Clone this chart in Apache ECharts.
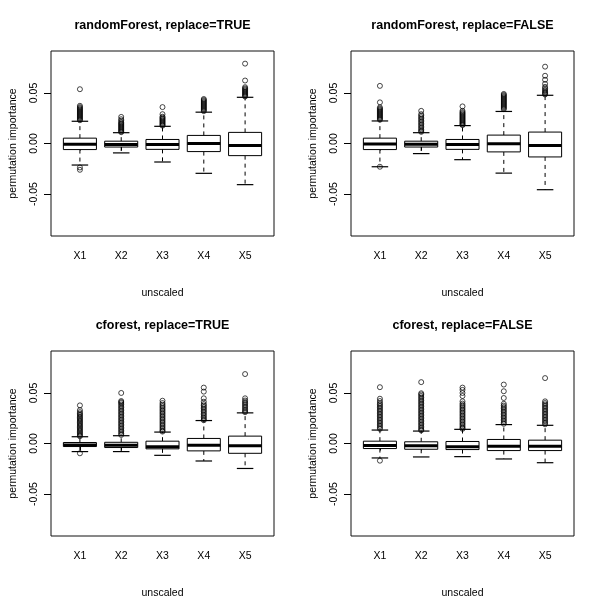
<!DOCTYPE html>
<html>
<head>
<meta charset="utf-8">
<script src="https://cdn.jsdelivr.net/npm/echarts@6/dist/echarts.min.js"></script>
<style>html,body{margin:0;padding:0;background:#fff}#c{width:600px;height:600px}</style>
</head>
<body>
<div id="c"></div>
<script>
// ---------- data ----------
const categories = ['X1', 'X2', 'X3', 'X4', 'X5'];
const panelTitles = ['randomForest, replace=TRUE', 'randomForest, replace=FALSE', 'cforest, replace=TRUE', 'cforest, replace=FALSE'];
const xAxisTitle = 'unscaled';
const yAxisTitle = 'permutation importance';
const yTickValues = [-0.05, 0, 0.05];
const yTickLabels = ['-0.05', '0.00', '0.05'];

// [lower whisker, Q1, median, Q3, upper whisker]
const rfTrueBoxes = [
  [-0.0213, -0.0060, -0.0007, 0.0053, 0.0220],
  [-0.0093, -0.0035, -0.0010, 0.0023, 0.0107],
  [-0.0183, -0.0058, -0.0010, 0.0040, 0.0170],
  [-0.0295, -0.0080, 0.0000, 0.0080, 0.0310],
  [-0.0407, -0.0120, -0.0020, 0.0110, 0.0457]
];
const rfTrueOutliers = [
  [0.0537, 0.0373, 0.0360, 0.0350, 0.0340, 0.0330, 0.0320, 0.0310, 0.0300, 0.0290, 0.0280, 0.0270, 0.0260, 0.0250, 0.0240, 0.0230, -0.0237, -0.0260],
  [0.0263, 0.0240, 0.0225, 0.0210, 0.0200, 0.0190, 0.0180, 0.0170, 0.0160, 0.0150, 0.0140, 0.0130, 0.0120, 0.0112],
  [0.0360, 0.0290, 0.0265, 0.0255, 0.0245, 0.0235, 0.0225, 0.0215, 0.0205, 0.0195, 0.0185, 0.0177],
  [0.0440, 0.0430, 0.0420, 0.0410, 0.0400, 0.0390, 0.0380, 0.0370, 0.0360, 0.0350, 0.0340, 0.0330, 0.0320],
  [0.0790, 0.0623, 0.0557, 0.0545, 0.0535, 0.0525, 0.0515, 0.0505, 0.0495, 0.0485, 0.0475, 0.0465]
];

const rfFalseBoxes = [
  [-0.0230, -0.0060, -0.0005, 0.0053, 0.0223],
  [-0.0100, -0.0035, -0.0008, 0.0023, 0.0107],
  [-0.0160, -0.0058, -0.0010, 0.0040, 0.0177],
  [-0.0293, -0.0083, -0.0003, 0.0083, 0.0317],
  [-0.0457, -0.0133, -0.0020, 0.0113, 0.0477]
];
const rfFalseOutliers = [
  [0.0570, 0.0407, 0.0357, 0.0345, 0.0335, 0.0325, 0.0315, 0.0305, 0.0295, 0.0285, 0.0275, 0.0265, 0.0255, 0.0245, 0.0235, -0.0230],
  [0.0323, 0.0290, 0.0275, 0.0260, 0.0245, 0.0230, 0.0215, 0.0200, 0.0185, 0.0170, 0.0155, 0.0140, 0.0125, 0.0115],
  [0.0367, 0.0323, 0.0310, 0.0300, 0.0290, 0.0280, 0.0270, 0.0260, 0.0250, 0.0240, 0.0230, 0.0220, 0.0210, 0.0200, 0.0190, 0.0182],
  [0.0490, 0.0480, 0.0470, 0.0460, 0.0450, 0.0440, 0.0430, 0.0420, 0.0410, 0.0400, 0.0390, 0.0380, 0.0370, 0.0360, 0.0350, 0.0340],
  [0.0760, 0.0670, 0.0630, 0.0590, 0.0560, 0.0545, 0.0530, 0.0517, 0.0505, 0.0495, 0.0485]
];

const cfTrueBoxes = [
  [-0.0080, -0.0030, -0.0015, 0.0010, 0.0067],
  [-0.0080, -0.0040, -0.0017, 0.0012, 0.0077],
  [-0.0117, -0.0053, -0.0033, 0.0023, 0.0113],
  [-0.0173, -0.0073, -0.0017, 0.0050, 0.0227],
  [-0.0247, -0.0097, -0.0022, 0.0073, 0.0303]
];
const cfTrueOutliers = [
  [0.0377, 0.0330, 0.0310, 0.0295, 0.0283, 0.0270, 0.0257, 0.0245, 0.0232, 0.0220, 0.0207, 0.0195, 0.0182, 0.0170, 0.0157, 0.0145, 0.0132, 0.0120, 0.0107, 0.0095, 0.0082, 0.0072, -0.0097],
  [0.0500, 0.0420, 0.0410, 0.0400, 0.0385, 0.0370, 0.0355, 0.0340, 0.0325, 0.0310, 0.0295, 0.0280, 0.0265, 0.0250, 0.0235, 0.0220, 0.0205, 0.0190, 0.0175, 0.0160, 0.0145, 0.0130, 0.0115, 0.0100, 0.0085],
  [0.0423, 0.0400, 0.0383, 0.0368, 0.0353, 0.0338, 0.0323, 0.0308, 0.0293, 0.0278, 0.0263, 0.0248, 0.0233, 0.0218, 0.0203, 0.0188, 0.0173, 0.0158, 0.0143, 0.0128, 0.0118],
  [0.0553, 0.0513, 0.0447, 0.0413, 0.0390, 0.0375, 0.0360, 0.0345, 0.0330, 0.0315, 0.0300, 0.0285, 0.0270, 0.0255, 0.0240, 0.0230],
  [0.0687, 0.0447, 0.0425, 0.0410, 0.0395, 0.0380, 0.0365, 0.0350, 0.0335, 0.0320, 0.0310]
];

const cfFalseBoxes = [
  [-0.0143, -0.0050, -0.0020, 0.0023, 0.0133],
  [-0.0133, -0.0057, -0.0023, 0.0017, 0.0123],
  [-0.0130, -0.0060, -0.0033, 0.0020, 0.0140],
  [-0.0153, -0.0070, -0.0027, 0.0040, 0.0187],
  [-0.0190, -0.0070, -0.0027, 0.0033, 0.0180]
];
const cfFalseOutliers = [
  [0.0557, 0.0443, 0.0420, 0.0400, 0.0385, 0.0370, 0.0355, 0.0340, 0.0325, 0.0310, 0.0295, 0.0280, 0.0265, 0.0250, 0.0235, 0.0220, 0.0205, 0.0190, 0.0175, 0.0160, 0.0145, -0.0170],
  [0.0607, 0.0497, 0.0485, 0.0470, 0.0455, 0.0440, 0.0425, 0.0410, 0.0395, 0.0380, 0.0365, 0.0350, 0.0335, 0.0320, 0.0305, 0.0290, 0.0275, 0.0260, 0.0245, 0.0230, 0.0215, 0.0200, 0.0185, 0.0170, 0.0155, 0.0140, 0.0130],
  [0.0553, 0.0530, 0.0500, 0.0470, 0.0417, 0.0395, 0.0380, 0.0365, 0.0350, 0.0335, 0.0320, 0.0305, 0.0290, 0.0275, 0.0260, 0.0245, 0.0230, 0.0215, 0.0200, 0.0185, 0.0170, 0.0155, 0.0145],
  [0.0583, 0.0517, 0.0450, 0.0393, 0.0375, 0.0360, 0.0345, 0.0330, 0.0315, 0.0300, 0.0285, 0.0270, 0.0255, 0.0240, 0.0225, 0.0210, 0.0195],
  [0.0647, 0.0417, 0.0400, 0.0385, 0.0370, 0.0355, 0.0340, 0.0325, 0.0310, 0.0295, 0.0280, 0.0265, 0.0250, 0.0235, 0.0220, 0.0205, 0.0190]
];

// ---------- build ----------
const panelBoxes = [rfTrueBoxes, rfFalseBoxes, cfTrueBoxes, cfFalseBoxes];
const panelOutliers = [rfTrueOutliers, rfFalseOutliers, cfTrueOutliers, cfFalseOutliers];
const FONT = '"Liberation Sans", Arial, Helvetica, sans-serif';
const categoryPositions = categories.map((c, i) => i + 1);

const gridW = 223, gridH = 185;
const origins = [[51, 51], [351, 51], [51, 351], [351, 351]];

const grids = [], xAxes = [], yAxes = [], series = [], graphics = [];

function renderBox(params, api) {
  const x = api.value(0);
  const lo = api.coord([x, api.value(1)]);
  const q1 = api.coord([x, api.value(2)]);
  const md = api.coord([x, api.value(3)]);
  const q3 = api.coord([x, api.value(4)]);
  const hi = api.coord([x, api.value(5)]);
  const bw = api.size([0.8, 0])[0];
  const cx = lo[0];
  const black = '#000';
  return {
    type: 'group',
    children: [
      { type: 'line', shape: { x1: cx, y1: q3[1], x2: cx, y2: hi[1] }, style: { stroke: black, lineWidth: 1, lineDash: [4, 4] } },
      { type: 'line', shape: { x1: cx, y1: q1[1], x2: cx, y2: lo[1] }, style: { stroke: black, lineWidth: 1, lineDash: [4, 4] } },
      { type: 'line', shape: { x1: cx - bw / 4, y1: hi[1], x2: cx + bw / 4, y2: hi[1] }, style: { stroke: black, lineWidth: 1.2 } },
      { type: 'line', shape: { x1: cx - bw / 4, y1: lo[1], x2: cx + bw / 4, y2: lo[1] }, style: { stroke: black, lineWidth: 1.2 } },
      { type: 'rect', shape: { x: cx - bw / 2, y: q3[1], width: bw, height: q1[1] - q3[1] }, style: { fill: '#fff', stroke: black, lineWidth: 1 } },
      { type: 'line', shape: { x1: cx - bw / 2, y1: md[1], x2: cx + bw / 2, y2: md[1] }, style: { stroke: black, lineWidth: 3 } }
    ]
  };
}

for (let p = 0; p < 4; p++) {
  const [ox, oy] = origins[p];
  grids.push({ left: ox, top: oy, width: gridW, height: gridH, show: true, borderColor: '#111', borderWidth: 1, backgroundColor: 'transparent' });
  xAxes.push({
    type: 'value', gridIndex: p, min: 0.3, max: 5.7,
    axisLine: { show: false }, splitLine: { show: false },
    axisTick: { show: true, customValues: categoryPositions, length: 7, lineStyle: { color: '#000', width: 1 } },
    axisLabel: { show: true, customValues: categoryPositions, formatter: v => categories[Math.round(v) - 1], fontSize: 10.5, color: '#000', fontFamily: FONT, margin: 15 }
  });
  yAxes.push({
    type: 'value', gridIndex: p, min: -0.0915, max: 0.0915,
    axisLine: { show: false }, splitLine: { show: false },
    axisTick: { show: true, customValues: yTickValues, length: 7, lineStyle: { color: '#000', width: 1 } },
    axisLabel: { show: true, customValues: yTickValues, rotate: 90, formatter: v => yTickLabels[yTickValues.findIndex(t => Math.abs(t - v) < 1e-9)], fontSize: 10.5, color: '#000', fontFamily: FONT, margin: 11 }
  });
  const boxData = panelBoxes[p].map((b, i) => [categoryPositions[i]].concat(b));
  series.push({
    type: 'custom', name: panelTitles[p], xAxisIndex: p, yAxisIndex: p,
    renderItem: renderBox, data: boxData, encode: { x: 0, y: [1, 2, 3, 4, 5] }, z: 2
  });
  const outData = [];
  panelOutliers[p].forEach((arr, i) => arr.forEach(v => outData.push([categoryPositions[i], v])));
  series.push({
    type: 'scatter', xAxisIndex: p, yAxisIndex: p, data: outData, symbol: 'circle', symbolSize: 5,
    itemStyle: { color: 'rgba(255,255,255,0)', borderColor: '#000', borderWidth: 0.9 }, z: 3, silent: true
  });
  const cx = ox + gridW / 2;
  graphics.push({ type: 'text', x: cx, y: oy - 25, style: { text: panelTitles[p], textAlign: 'center', textVerticalAlign: 'middle', font: 'bold 12.5px ' + FONT, fill: '#000' } });
  graphics.push({ type: 'text', x: cx, y: oy + 242, style: { text: xAxisTitle, textAlign: 'center', textVerticalAlign: 'middle', font: '10.5px ' + FONT, fill: '#000' } });
  graphics.push({ type: 'text', x: ox - 38, y: oy + gridH / 2, rotation: Math.PI / 2, style: { text: yAxisTitle, textAlign: 'center', textVerticalAlign: 'middle', font: '10.5px ' + FONT, fill: '#000' } });
}

const chart = echarts.init(document.getElementById('c'), null, { renderer: 'canvas' });
chart.setOption({
  animation: false,
  backgroundColor: '#fff',
  grid: grids, xAxis: xAxes, yAxis: yAxes, series: series,
  graphic: graphics
});
</script>
</body>
</html>
